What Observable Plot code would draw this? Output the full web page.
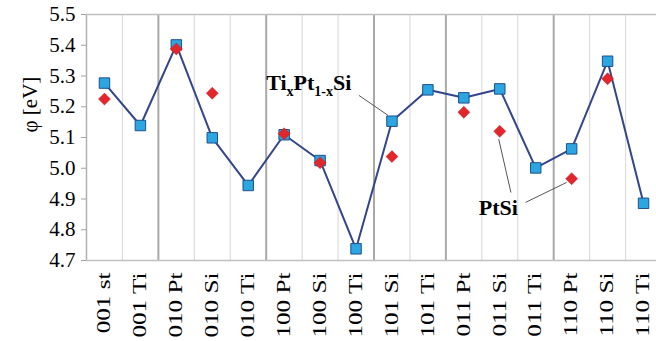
<!DOCTYPE html>
<html>
<head>
<meta charset="utf-8">
<script src="https://cdn.jsdelivr.net/npm/d3@7"></script>
<script src="https://cdn.jsdelivr.net/npm/@observablehq/plot@0.6"></script>
<style>
  html, body { margin: 0; padding: 0; background: #fff; }
  #chart svg { display: block; }
  #chart svg, #chart svg text { font-family: "Liberation Serif", "Times New Roman", serif !important; }
</style>
</head>
<body>
<div id="chart"></div>
<script>
// Surface orientations / terminations along the x axis
const categories = [
  "001 st", "001 Ti", "010 Pt", "010 Si", "010 Ti",
  "100 Pt", "100 Si", "100 Ti", "101 Si", "101 Ti",
  "011 Pt", "011 Si", "011 Ti", "110 Pt", "110 Si", "110 Ti"
];

// Work function φ (eV) of TixPt1-xSi
const tixptsi = [
  5.277, 5.139, 5.401, 5.099, 4.944,
  5.109, 5.025, 4.738, 5.153, 5.255,
  5.229, 5.258, 5.001, 5.063, 5.348, 4.886
];

// Work function φ (eV) of PtSi (no Ti terminations)
const ptsi = [
  5.225, null, 5.388, 5.244, null,
  5.112, 5.018, null, 5.038, null,
  5.182, 5.120, null, 4.966, 5.291, null
];

// Orientation group boundaries (in category units)
const groupBounds = [2, 5, 8, 10, 13];
const yTicks = [4.7, 4.8, 4.9, 5.0, 5.1, 5.2, 5.3, 5.4, 5.5];

// Annotation labels and their leader lines (data units)
const silicideLabel = [{x: 5.0, y: 5.277, text: "TixPt1-xSi"}];
const ptsiLabel = [{x: 11.46, y: 4.872, text: "PtSi"}];
const leaders = [
  {x1: 7.58, y1: 5.237, x2: 8.39, y2: 5.172},
  {x1: 11.81, y1: 4.921, x2: 11.47, y2: 5.095},
  {x1: 12.22, y1: 4.889, x2: 13.36, y2: 4.954}
];

const rows = categories.map((c, i) => ({i: i + 0.5, cat: c, t: tixptsi[i], p: ptsi[i]}));
const lightBounds = d3.range(1, 17).filter(b => !groupBounds.includes(b));

const chart = Plot.plot({
  width: 656,
  height: 341,
  marginLeft: 86,
  marginRight: -5,
  marginTop: 14,
  marginBottom: 81,
  x: {domain: [0, 16]},
  y: {domain: [4.7, 5.5]},
  style: {fontFamily: "Liberation Serif, serif", background: "#fff", color: "#000"},
  marks: [
    Plot.ruleX(lightBounds, {stroke: "#dcdcdc", strokeWidth: 1.2}),
    Plot.ruleX(groupBounds, {stroke: "#a8a8a8", strokeWidth: 2}),
    Plot.ruleX([0], {stroke: "#b0b0b0", strokeWidth: 1.5}),
    Plot.ruleY([5.5], {stroke: "#c0c0c0", strokeWidth: 1.5}),
    Plot.ruleY([4.7], {stroke: "#c0c0c0", strokeWidth: 1.5}),
    Plot.axisY({
      ticks: yTicks, tickFormat: d3.format(".1f"), tickSize: 5, tickPadding: 6,
      fontSize: 21, stroke: "#a0a0a0", fill: "#000", label: null
    }),
    Plot.axisX({
      ticks: rows.map(d => d.i), tickFormat: d => categories[Math.floor(d)],
      tickRotate: -90, tickSize: 0, tickPadding: 12, fontSize: 18, fill: "#000", label: null
    }),
    Plot.text(["φ [eV]"], {frameAnchor: "left", dx: -56, dy: -5, rotate: -90, fontSize: 21, fill: "#000"}),
    Plot.line(rows, {x: "i", y: "t", stroke: "#33458c", strokeWidth: 2}),
    Plot.dot(rows, {x: "i", y: "t", symbol: "square", r: 5.9, fill: "#2ca6e0", stroke: "#1d4f8c", strokeWidth: 1}),
    Plot.dot(rows.filter(d => d.p != null), {x: "i", y: "p", symbol: "diamond2", r: 5.4, fill: "#e3262b", stroke: "#c41a1f", strokeWidth: 0.5}),
    Plot.link(leaders, {x1: "x1", y1: "y1", x2: "x2", y2: "y2", stroke: "#555", strokeWidth: 1}),
    Plot.text(silicideLabel, {x: "x", y: "y", text: "text", textAnchor: "start", fontSize: 22, fontWeight: "bold", fill: "#000"}),
    Plot.text(ptsiLabel, {x: "x", y: "y", text: "text", textAnchor: "middle", fontSize: 22, fontWeight: "bold", fill: "#000"})
  ]
});

// Stretch the rotated category labels along their reading direction
chart.querySelectorAll("text").forEach(t => {
  if (categories.includes(t.textContent)) {
    const tr = t.getAttribute("transform") || "";
    t.setAttribute("transform", tr + " scale(1.4,1)");
  }
});

// Subscripts in the TixPt1-xSi label
chart.querySelectorAll("text").forEach(t => {
  if (t.textContent === "TixPt1-xSi") {
    const parts = [["Ti", 0, 22], ["x", 6, 14], ["Pt", -6, 22], ["1-x", 6, 14], ["Si", -6, 22]];
    const ns = "http://www.w3.org/2000/svg";
    t.textContent = "";
    parts.forEach(([s, dy, fs]) => {
      const sp = document.createElementNS(ns, "tspan");
      sp.textContent = s;
      sp.setAttribute("dy", dy);
      sp.setAttribute("font-size", fs);
      t.appendChild(sp);
    });
  }
});

document.getElementById("chart").appendChild(chart);
</script>
</body>
</html>
